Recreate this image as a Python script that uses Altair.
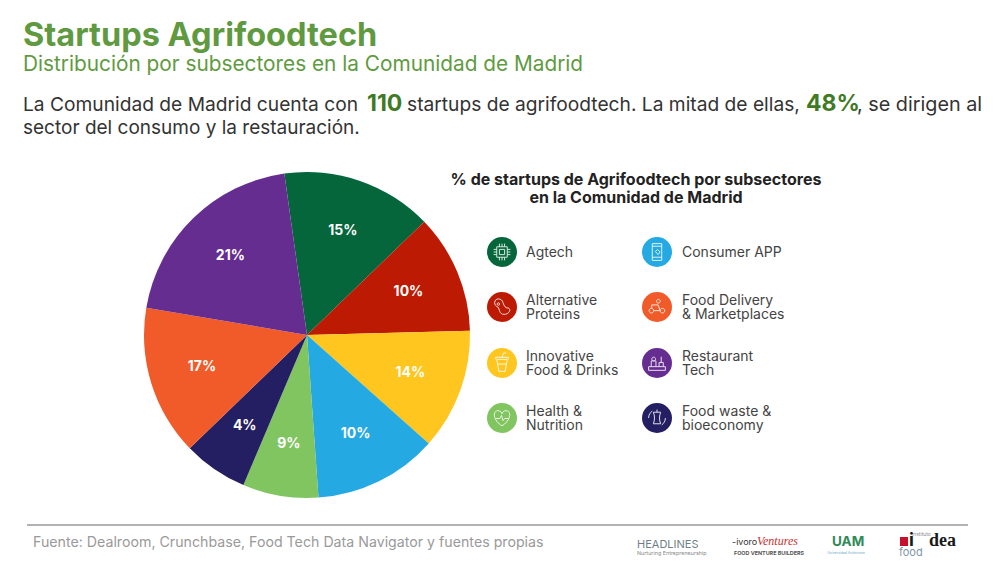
import altair as alt
import pandas as pd

# ---- data ----
categories = ["Agtech", "Alternative Proteins", "Innovative Food & Drinks", "Consumer APP",
              "Health & Nutrition", "Food waste & bioeconomy", "Food Delivery & Marketplaces", "Restaurant Tech"]
wedge_sizes = [15.0, 11.8, 12.0, 12.3, 7.5, 6.4, 14.9, 20.1]
printed_labels = ["15%", "10%", "14%", "10%", "9%", "4%", "17%", "21%"]
legend_lines = [["Agtech"], ["Alternative", "Proteins"], ["Innovative", "Food & Drinks"], ["Health &", "Nutrition"],
                ["Consumer APP"], ["Food Delivery", "& Marketplaces"], ["Restaurant", "Tech"], ["Food waste &", "bioeconomy"]]
legend_order = ["Agtech", "Alternative Proteins", "Innovative Food & Drinks", "Health & Nutrition",
                "Consumer APP", "Food Delivery & Marketplaces", "Restaurant Tech", "Food waste & bioeconomy"]

# ---- styles ----
slice_colors = ["#04663a", "#bd1a04", "#fec61e", "#24a9e3", "#80c55f", "#241f63", "#f15a29", "#662d91"]
FONT = "Inter"
GREEN = "#5f9a41"
DARK_GREEN = "#3f7a24"
TEXT = "#333333"
MARGIN = 8
color_scale = alt.Scale(domain=categories, range=slice_colors)
START = -0.1396
TAU = 6.28319

icons = {
    "Agtech": "M-.5,-.5H.5V.5H-.5Z M-.25,-.25H.25V.25H-.25Z M-.25,-.5V-.8 M0,-.5V-.8 M.25,-.5V-.8 M-.25,.5V.8 M0,.5V.8 M.25,.5V.8 M-.5,-.25H-.8 M-.5,0H-.8 M-.5,.25H-.8 M.5,-.25H.8 M.5,0H.8 M.5,.25H.8",
    "Alternative Proteins": "M-.7,-.4C-.7,-.9,0,-.9,.1,-.4C.2,-.1,.3,.1,.6,.1C.9,.2,.7,.7,.2,.7C-.3,.7,-.2,.2,-.4,0C-.6,-.1,-.7,-.2,-.7,-.4Z M-.35,-.4A.12,.12,0,1,0,-.34,-.4Z",
    "Innovative Food & Drinks": "M-.5,-.35H.5L.3,.8H-.3Z M-.6,-.35V-.55H.6V-.35 M0,-.55L.15,-.95H.4 M-.42,.1H.42",
    "Health & Nutrition": "M0,.75C-.9,.2,-.9,-.7,-.4,-.7C-.15,-.7,0,-.5,0,-.4C0,-.5,.15,-.7,.4,-.7C.9,-.7,.9,.2,0,.75Z M-.6,.05H-.2L-.05,-.25L.1,.25L.25,.05H.6",
    "Consumer APP": "M-.45,-.8H.45V.8H-.45Z M-.45,-.55H.45 M-.45,.5H.45 M-.15,-.05L.05,-.25L.3,0L.1,.25Z",
    "Food Delivery & Marketplaces": "M-.75,.35A.22,.22,0,1,0,-.31,.35A.22,.22,0,1,0,-.75,.35Z M.3,.35A.22,.22,0,1,0,.74,.35A.22,.22,0,1,0,.3,.35Z M-.3,.35H.3L.1,-.2H-.5V.1 M-.05,-.55A.18,.18,0,1,0,.31,-.55A.18,.18,0,1,0,-.05,-.55Z",
    "Restaurant Tech": "M-.8,.7H.8 M-.8,.35H.8V.7 M-.8,.35V.7 M-.55,.35V-.2H-.1V.35 M-.32,-.2A.18,.18,0,1,1,-.31,-.2Z M.2,.35V-.05H.6V.35 M.4,-.05V-.6",
    "Food waste & bioeconomy": "M-.35,-.55H.35C.2,-.2,.2,.2,.35,.55H-.35C-.2,.2,-.2,-.2,-.35,-.55Z M0,-.55V-.8 M-.8,0A.8,.8,0,0,1,-.45,-.66 M.8,0A.8,.8,0,0,1,.45,.66",
}


def label(text, x, y, size, color=TEXT, weight="normal", align="left", font=FONT, style="normal"):
    return alt.Chart(pd.DataFrame({"t": [text]})).mark_text(
        font=font, fontSize=size, color=color, fontWeight=weight, align=align, baseline="middle", fontStyle=style
    ).encode(text="t:N", x=alt.value(x - MARGIN), y=alt.value(y + 1 - MARGIN))


pie = pd.DataFrame({"cat": categories, "v": wedge_sizes, "lab": printed_labels, "i": range(len(categories))})
theta = alt.Theta("v:Q", stack=True, scale=alt.Scale(range=[START, START + TAU]))
center = dict(x=alt.value(307 - MARGIN), y=alt.value(335 - MARGIN))

arcs = alt.Chart(pie).mark_arc(outerRadius=163, stroke=None).encode(
    theta=theta, order=alt.Order("i:Q"), color=alt.Color("cat:N", scale=color_scale, legend=None), **center)
arc_text = alt.Chart(pie).mark_text(radius=110, font=FONT, fontSize=14, fontWeight="bold", color="white",
                                    baseline="middle").encode(
    theta=theta, order=alt.Order("i:Q"), text="lab:N", **center)

layers = [arcs, arc_text]

layers += [
    label("Startups Agrifoodtech", 23, 35, 32.5, GREEN, "bold"),
    label("Distribución por subsectores en la Comunidad de Madrid", 23, 64, 20.8, GREEN),
    label("La Comunidad de Madrid cuenta con", 23, 104, 19.2),
    label("110", 367, 103, 23, DARK_GREEN, "bold"),
    label("startups de agrifoodtech.  La mitad de ellas,", 407, 104, 19.2),
    label("48%", 806, 103, 23, DARK_GREEN, "bold"),
    label(",  se dirigen al", 857, 104, 19.8),
    label("sector del consumo y la restauración.", 23, 127, 19),
    label("% de startups de Agrifoodtech por subsectores", 636, 179, 16, "#222222", "bold", "center"),
    label("en la Comunidad de Madrid", 636, 197, 16, "#222222", "bold", "center"),
    label("Fuente: Dealroom, Crunchbase, Food Tech Data Navigator y fuentes propias", 33, 542, 14.2, "#9a9a9a"),
    label("HEADLINES", 637, 544, 11, "#6f7f88"),
    label("Nurturing Entrepreneurship", 637, 552, 5.4, "#8a8a8a"),
    label("-ivoro", 732, 541, 9, "#333333"),
    label("Ventures", 757, 540, 12, "#c8322b", style="italic", font="Liberation Serif"),
    label("FOOD VENTURE BUILDERS", 734, 552, 5.4, "#555555", "bold"),
    label("UAM", 832, 541, 13.5, "#2f8a57", "bold"),
    label("Universidad Autónoma", 846, 552, 3.5, "#6fa8c8", align="center"),
    label("instituto", 912, 533, 5, "#8a8a8a"),
    label("i", 909, 540, 18, "#1a1a1a", "bold"),
    label("dea", 929, 540, 18, "#1a1a1a", "bold", font="Liberation Sans Narrow"),
    label("food", 899, 552, 11, "#7f97a8"),
]

rule_df = pd.DataFrame({"a": [0]})
layers.append(alt.Chart(rule_df).mark_rule(color="#666666", strokeWidth=1).encode(
    x=alt.value(27 - MARGIN), x2=alt.value(968 - MARGIN), y=alt.value(525 - MARGIN)))
layers.append(alt.Chart(rule_df).mark_rect(color="#c8102e").encode(
    x=alt.value(900 - MARGIN), x2=alt.value(908 - MARGIN), y=alt.value(537 - MARGIN), y2=alt.value(546 - MARGIN)))

rows = [252, 307, 363, 418]
for k, (name, lines) in enumerate(zip(legend_order, legend_lines)):
    col, row = k // 4, k % 4
    cx = [502, 657][col]
    tx = [526, 682][col]
    cy = rows[row]
    layers.append(alt.Chart(pd.DataFrame({"cat": [name]})).mark_circle(size=900, opacity=1).encode(
        x=alt.value(cx - MARGIN), y=alt.value(cy - MARGIN), color=alt.Color("cat:N", scale=color_scale, legend=None)))
    layers.append(alt.Chart(pd.DataFrame({"cat": [name]})).mark_point(
        shape=icons[name], size=440, filled=False, color="white", strokeWidth=1, opacity=0.85).encode(
        x=alt.value(cx - MARGIN), y=alt.value(cy - MARGIN)))
    for j, line in enumerate(lines):
        yy = cy + (j - (len(lines) - 1) / 2) * 14
        layers.append(label(line, tx, yy, 14, "#444444"))

chart = alt.layer(*layers).properties(width=980, height=553, padding=0, autosize="none",
                                      background="white").configure_view(stroke=None)
chart.save("out.html", embed_options={"renderer": "svg", "actions": False})
